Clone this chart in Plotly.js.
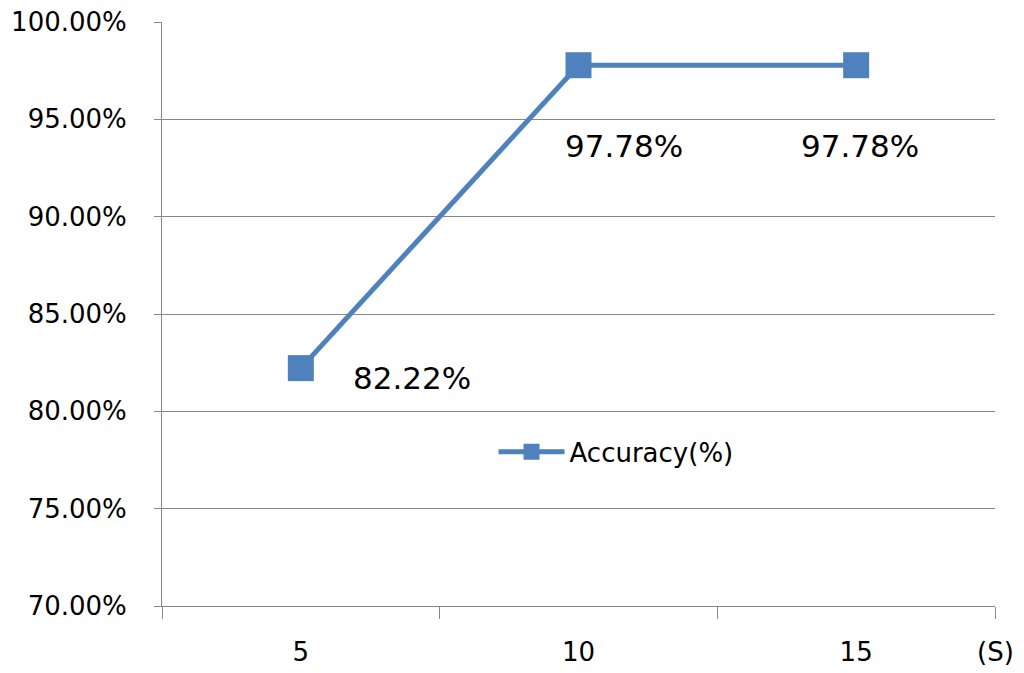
<!DOCTYPE html>
<html>
<head>
<meta charset="utf-8">
<script src="https://cdn.plot.ly/plotly-3.0.1.min.js"></script>
<style>html,body{margin:0;padding:0;background:#fff;}#chart{width:1024px;height:673px;}</style>
</head>
<body>
<div id="chart"></div>
<script>
const categories = ["5", "10", "15"];
const accuracy = [0.8222, 0.9778, 0.9778];
const labelTexts = ["82.22%", "97.78%", "97.78%"];
const seriesName = "Accuracy(%)";
const yTicks = [0.70, 0.75, 0.80, 0.85, 0.90, 0.95, 1.00];
const unitLabel = "(S)";

const blue = "#4F81BD";
const grid = "#878787";
const font = "DejaVu Sans, Verdana, sans-serif";

const labelShifts = [[111, -10], [45, -81], [4, -81]];

const trace = {
  x: categories,
  y: accuracy,
  type: "scatter",
  mode: "lines+markers",
  name: seriesName,
  line: {color: blue, width: 5},
  marker: {symbol: "square", size: 26, color: blue},
  hoverinfo: "skip"
};

const annotations = categories.map((c, i) => ({
  x: i, y: accuracy[i], xref: "x", yref: "y",
  text: labelTexts[i], showarrow: false,
  xshift: labelShifts[i][0], yshift: labelShifts[i][1],
  xanchor: "center", yanchor: "middle",
  font: {family: font, size: 31, color: "#000"}
}));
annotations.push({
  x: 1, y: -0.079, xref: "paper", yref: "paper",
  text: unitLabel, showarrow: false,
  xanchor: "center", yanchor: "middle",
  font: {family: font, size: 26, color: "#000"}
});

const layout = {
  width: 1024, height: 673,
  margin: {l: 162, r: 29, t: 22, b: 67},
  paper_bgcolor: "#fff", plot_bgcolor: "#fff",
  showlegend: true,
  legend: {
    x: 0.398, y: 0.264, xanchor: "left", yanchor: "middle",
    itemwidth: 66,
    itemsizing: "trace",
    bgcolor: "rgba(0,0,0,0)",
    font: {family: font, size: 26, color: "#000"}
  },
  xaxis: {
    type: "category",
    range: [-0.5, 2.5],
    tickson: "boundaries",
    ticks: "outside", ticklen: 12, tickcolor: grid, tickwidth: 1,
    showline: true, linecolor: grid, linewidth: 1,
    showgrid: false, zeroline: false,
    tickfont: {family: font, size: 26, color: "#000"},
    ticklabelstandoff: 23,
    fixedrange: true
  },
  yaxis: {
    range: [0.70, 1.00],
    tickmode: "array", tickvals: yTicks,
    tickformat: ".2%",
    ticks: "outside", ticklen: 7, tickcolor: grid, tickwidth: 1,
    showline: true, linecolor: grid, linewidth: 1,
    showgrid: true, gridcolor: grid, gridwidth: 1,
    zeroline: false,
    tickfont: {family: font, size: 26, color: "#000"},
    ticklabelstandoff: 22,
    fixedrange: true
  },
  annotations: annotations
};

Plotly.newPlot("chart", [trace], layout, {displayModeBar: false, staticPlot: true});
</script>
</body>
</html>
